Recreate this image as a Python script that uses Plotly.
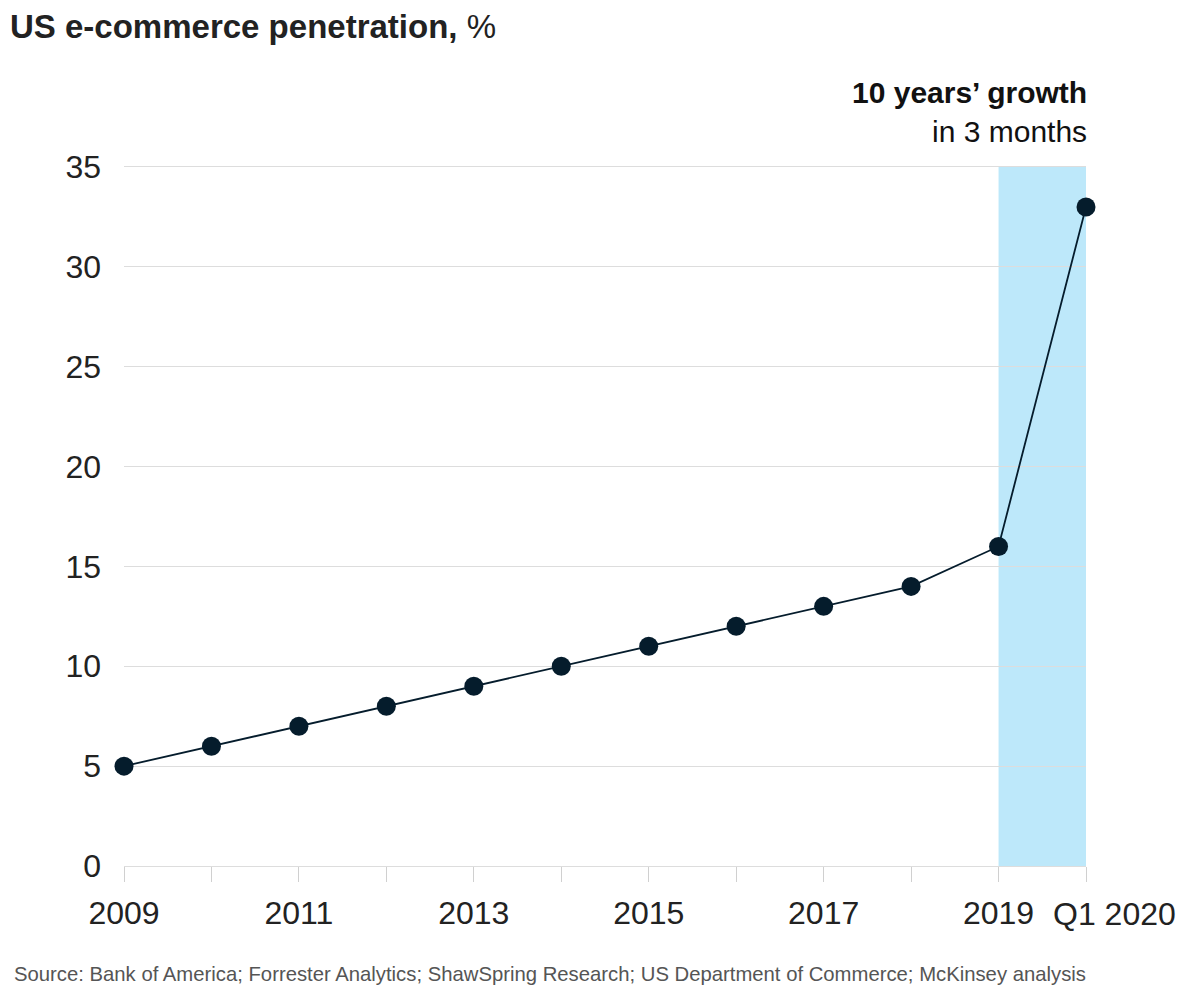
import plotly.graph_objects as go

years = [2009, 2010, 2011, 2012, 2013, 2014, 2015, 2016, 2017, 2018, 2019, 2020]
penetration = [5, 6, 7, 8, 9, 10, 11, 12, 13, 14, 16, 33]
tick_labels = ["2009", "", "2011", "", "2013", "", "2015", "", "2017", "", "2019", ""]
last_label = "Q1 2020"
y_ticks = [0, 5, 10, 15, 20, 25, 30, 35]
shade_start, shade_end = 2019, 2020

NAVY = "#051C2C"
FONT = "Liberation Sans"

fig = go.Figure()
fig.add_shape(type="rect", xref="x", yref="y", x0=shade_start, x1=shade_end, y0=0, y1=35,
              fillcolor="#BDE8FA", line_width=0, layer="below")
fig.add_trace(go.Scatter(x=years, y=penetration, mode="lines+markers",
                         line=dict(color=NAVY, width=1.8),
                         marker=dict(color=NAVY, size=19),
                         cliponaxis=False, hoverinfo="x+y"))

fig.update_layout(
    width=1200, height=1000,
    margin=dict(l=116, r=122, t=159, b=142),
    paper_bgcolor="white", plot_bgcolor="rgba(0,0,0,0)",
    showlegend=False,
    font=dict(family=FONT, color="#222222"),
    xaxis=dict(range=[2009, 2020], tickvals=years, ticktext=tick_labels,
               showgrid=False, zeroline=False, showline=True, mirror=True,
               linecolor="#DDDDDD", linewidth=1,
               ticks="outside", ticklen=15, tickcolor="#D0D0D0", tickwidth=1,
               tickfont=dict(size=32, color="#222222"), ticklabelstandoff=4),
    yaxis=dict(range=[0, 35], tickvals=y_ticks, showgrid=True, gridcolor="#DDDDDD",
               gridwidth=1, zeroline=False, showline=False, ticks="",
               tickfont=dict(size=32, color="#222222"), ticklabelstandoff=22),
)

fig.add_annotation(x=shade_end, y=0, xref="x", yref="y", text=last_label, showarrow=False,
                   xanchor="center", yanchor="top", xshift=28, yshift=-28,
                   font=dict(size=32, color="#222222", family=FONT))

fig.add_annotation(x=-0.1205, y=1.231, xref="paper", yref="paper", xanchor="left", yanchor="top",
                   text="<b>US e-commerce penetration,</b> %", showarrow=False,
                   font=dict(size=33, color="#222222", family=FONT))

fig.add_annotation(x=shade_end, y=35, xref="x", yref="y", xanchor="right", yanchor="bottom",
                   text="<b>10 years’ growth</b><br>in 3 months", showarrow=False, align="right",
                   xshift=3, yshift=17,
                   font=dict(size=30, color="#111111", family=FONT))

fig.add_annotation(x=-0.1163, y=-0.1545, xref="paper", yref="paper", xanchor="left", yanchor="middle",
                   text="Source: Bank of America; Forrester Analytics; ShawSpring Research; US Department of Commerce; McKinsey analysis",
                   showarrow=False, font=dict(size=20.3, color="#555555", family=FONT))

fig.write_html("out.html")
